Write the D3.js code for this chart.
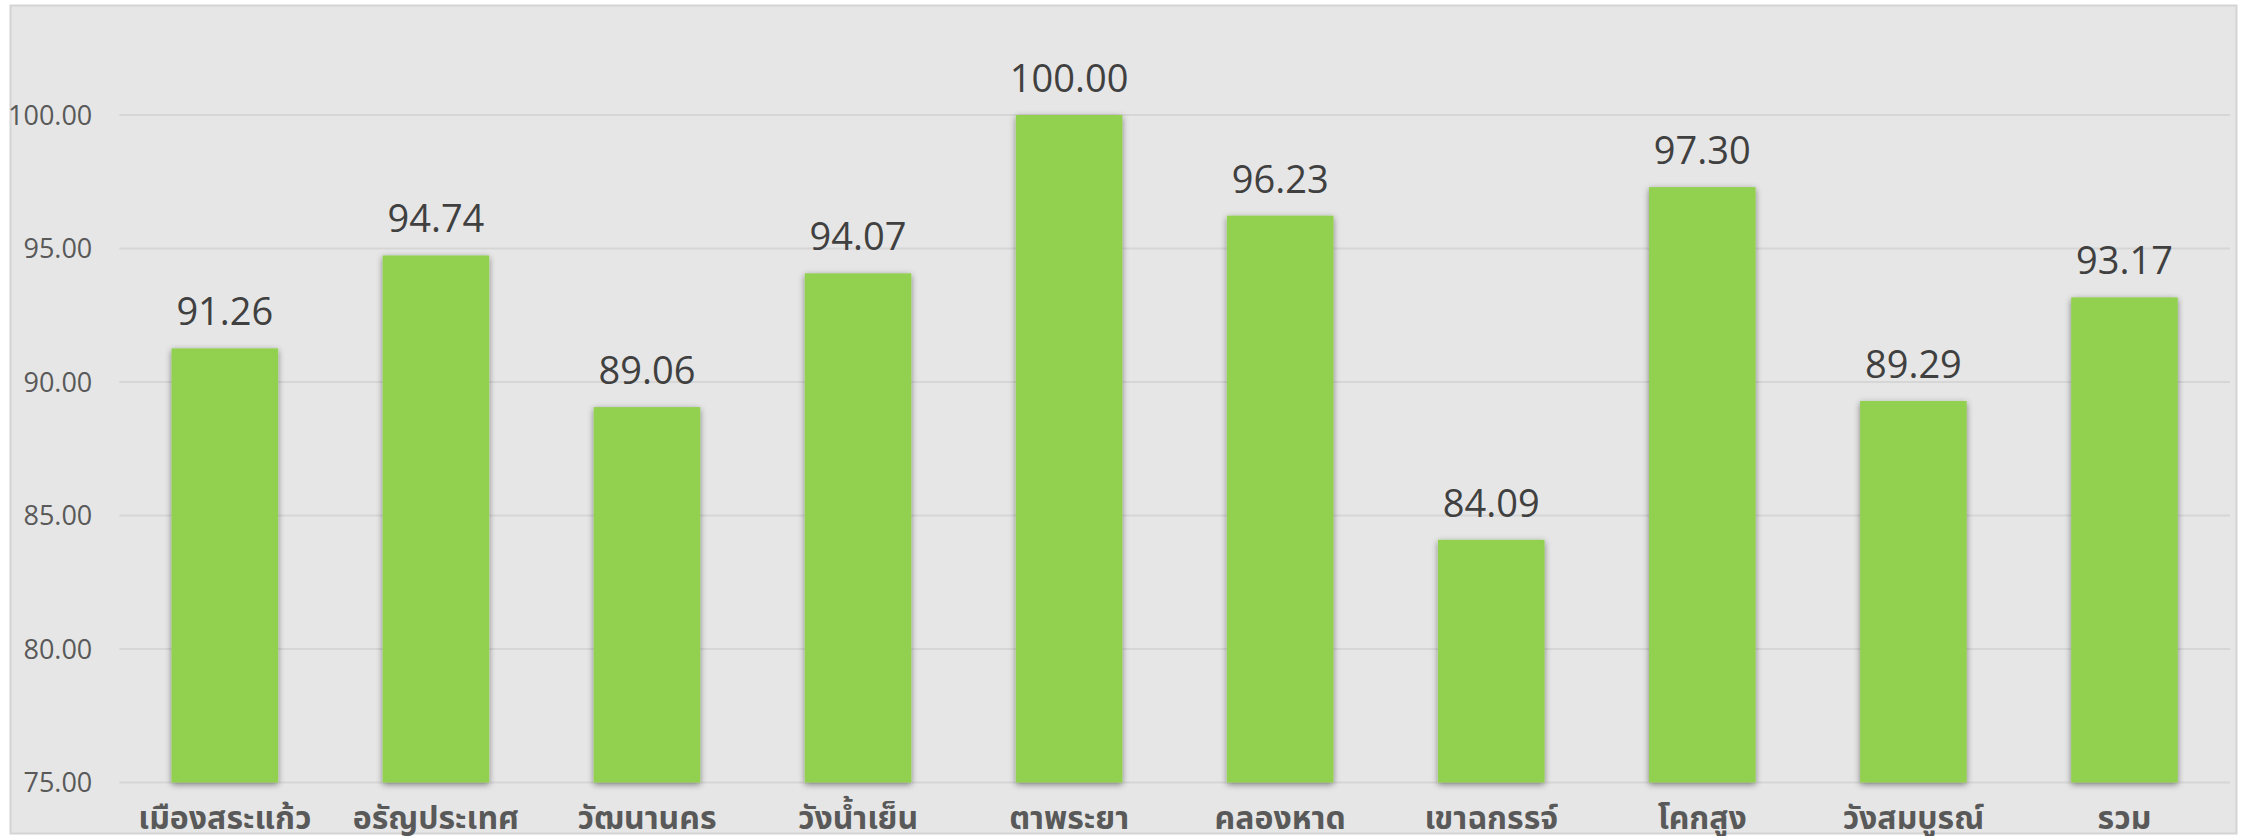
<!DOCTYPE html>
<html><head><meta charset="utf-8">
<script src="https://cdn.jsdelivr.net/npm/d3@7"></script>
<style>
html,body{margin:0;padding:0;background:#fff;}
svg{display:block;}
</style></head>
<body>
<svg id="chart" width="2245" height="836"></svg>
<script>
const categories = ["เมืองสระแก้ว","อรัญประเทศ","วัฒนานคร","วังน้ำเย็น","ตาพระยา","คลองหาด","เขาฉกรรจ์","โคกสูง","วังสมบูรณ์","รวม"];
const values = [91.26, 94.74, 89.06, 94.07, 100.00, 96.23, 84.09, 97.30, 89.29, 93.17];
const yTicks = [75, 80, 85, 90, 95, 100];

const svg = d3.select("#chart");
const thai = "'Noto Sans Thai','Noto Sans','Open Sans',Tahoma,sans-serif";
const latin = "'Open Sans','Noto Sans',sans-serif";

const defs = svg.append("defs");
const f = defs.append("filter").attr("id","shadow").attr("x","-20%").attr("y","-5%").attr("width","140%").attr("height","110%");
f.append("feDropShadow").attr("dx",0).attr("dy",2).attr("stdDeviation",3).attr("flood-color","#000").attr("flood-opacity",0.45);

svg.append("rect").attr("x",10.5).attr("y",5.5).attr("width",2226).attr("height",828)
  .attr("fill","#e6e6e6").attr("stroke","#d4d4d4").attr("stroke-width",2);

const left = 119.3, right = 2230;
const x = d3.scaleBand().domain(categories).range([left,right]).paddingInner(0.495).paddingOuter(0.2475);
const y = d3.scaleLinear().domain([75,100]).range([782.5,115]);

const grid = svg.append("g");
grid.selectAll("line").data(yTicks).join("line")
  .attr("x1",left).attr("x2",right)
  .attr("y1",d=>y(d)).attr("y2",d=>y(d))
  .attr("stroke","#d6d6d6").attr("stroke-width",2);

const yAxis = svg.append("g").attr("transform",`translate(${left},0)`)
  .call(d3.axisLeft(y).tickValues(yTicks).tickFormat(d3.format(".2f")).tickSize(0).tickPadding(27));
yAxis.select(".domain").remove();
yAxis.selectAll("text").attr("font-family",latin).attr("font-size",27).attr("fill","#595959").attr("dy","0.35em");

svg.append("g").selectAll("rect").data(values).join("rect")
  .attr("x",(d,i)=>x(categories[i]))
  .attr("width",x.bandwidth())
  .attr("y",d=>y(d))
  .attr("height",d=>y(75)-y(d))
  .attr("fill","#92d050")
  .attr("filter","url(#shadow)");

svg.append("g").selectAll("text").data(values).join("text")
  .attr("x",(d,i)=>x(categories[i])+x.bandwidth()/2)
  .attr("y",d=>y(d)-23)
  .attr("text-anchor","middle")
  .attr("font-family",latin).attr("font-size",38).attr("fill","#404040")
  .text(d=>d3.format(".2f")(d));

const xAxis = svg.append("g").attr("transform",`translate(0,${y(75)})`)
  .call(d3.axisBottom(x).tickSize(0).tickPadding(0));
xAxis.select(".domain").remove();
xAxis.selectAll("text").attr("dy",null).attr("y",46)
  .attr("font-family",thai).attr("font-size",32).attr("font-weight","bold").attr("fill","#595959");
</script>
</body></html>
